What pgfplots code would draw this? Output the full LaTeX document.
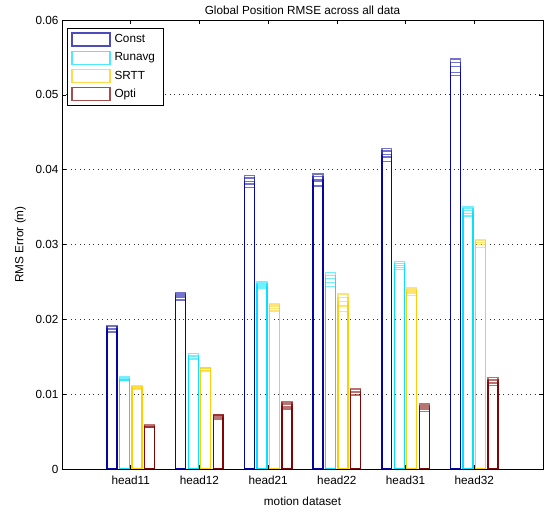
\documentclass[border=0pt]{standalone}
\usepackage{fontspec}
\setmainfont{Liberation Sans}
\usepackage{pgfplots}
\usepackage{pgfplotstable}
\pgfplotsset{compat=1.18}
\definecolor{cConst}{RGB}{0,0,160}
\definecolor{cRun}{RGB}{0,225,255}
\definecolor{cSrtt}{RGB}{255,205,0}
\definecolor{cOpti}{RGB}{128,0,0}
\pgfplotstableread{
x t1 t2 t3 t4 t5
1 0.0192 0.0190 0.0188 0.0186 0.0183
2 0.0236 0.0234 0.0231 0.0229 0.0226
3 0.0392 0.0389 0.0384 0.0381 0.0376
4 0.0394 0.0391 0.0387 0.0385 0.0378
5 0.0428 0.0425 0.0420 0.0417 0.0411
6 0.0548 0.0543 0.0538 0.0530 0.0526
}\Const
\pgfplotstableread{
x t1 t2 t3 t4 t5
1 0.0123 0.0121 0.0120 0.0119 0.0118
2 0.0154 0.0152 0.0150 0.0148 0.0146
3 0.0250 0.0248 0.0246 0.0244 0.0242
4 0.0263 0.0259 0.0255 0.0249 0.0244
5 0.0277 0.0275 0.0272 0.0269 0.0267
6 0.0350 0.0348 0.0345 0.0341 0.0338
}\Runavg
\pgfplotstableread{
x t1 t2 t3 t4 t5
1 0.0111 0.0110 0.0109 0.0108 0.0107
2 0.0136 0.0135 0.0134 0.0132 0.0131
3 0.0221 0.0219 0.0217 0.0214 0.0211
4 0.0234 0.0229 0.0224 0.0218 0.0210
5 0.0242 0.0240 0.0238 0.0235 0.0232
6 0.0307 0.0305 0.0303 0.0300 0.0296
}\Srtt
\pgfplotstableread{
x t1 t2 t3 t4 t5
1 0.0059 0.0058 0.0057 0.0056 0.0055
2 0.0073 0.0072 0.0071 0.0069 0.0067
3 0.0090 0.0088 0.0086 0.0083 0.0080
4 0.0108 0.0106 0.0104 0.0102 0.0099
5 0.0087 0.0085 0.0083 0.0080 0.0077
6 0.0122 0.0120 0.0118 0.0115 0.0112
}\Opti
\begin{document}
\begin{tikzpicture}
\begin{axis}[
  scale only axis,
  width=481bp, height=449bp,
  xmin=0, xmax=7, ymin=0, ymax=0.06,
  ybar, bar width=0.145,
  xtick={1,2,3,4,5,6},
  xticklabels={head11,head12,head21,head22,head31,head32},
  ytick={0,0.01,0.02,0.03,0.04,0.05,0.06},
  scaled y ticks=false,
  yticklabel style={/pgf/number format/fixed,/pgf/number format/precision=2},
  xticklabel style={yshift=-3bp},
  /pgf/number format/assume math mode=true,
  tick align=inside,
  major tick length=4bp,
  tick style={black, line width=0.5bp},
  ymajorgrids,
  major grid style={black!80, line width=0.7bp, dash pattern=on 1bp off 3.5bp},
  axis line style={black, line width=0.6bp},
  ticklabel style={font=\fontsize{11.8}{13}\selectfont},
  title={Global Position RMSE across all data},
  title style={font=\fontsize{11.8}{13}\selectfont, yshift=-4bp},
  xlabel={motion dataset},
  ylabel={RMS Error (m)},
  label style={font=\fontsize{11.8}{13}\selectfont},
  xlabel style={yshift=-6bp},
  ylabel style={yshift=3bp},
  legend style={at={(0.0104,0.982)}, anchor=north west, draw=black, line width=0.6bp,
    font=\fontsize{11.8}{13}\selectfont, row sep=4bp, inner xsep=4bp, inner ysep=4bp,
    nodes={inner xsep=4bp}},
  legend cell align=left,
  legend image code/.code={\draw[#1, line width=1.2bp, draw opacity=0.7] (0bp,-6.5bp) rectangle (38bp,6.5bp);},
  every axis plot/.append style={fill=none, line width=1.3bp, draw opacity=0.55},
]
\addplot[draw=cConst, bar shift=-0.2727] table[x=x,y=t1]{\Const};
\addlegendentry{Const}
\addplot[draw=cRun, bar shift=-0.0909] table[x=x,y=t1]{\Runavg};
\addlegendentry{Runavg}
\addplot[draw=cSrtt, bar shift=0.0909] table[x=x,y=t1]{\Srtt};
\addlegendentry{SRTT}
\addplot[draw=cOpti, bar shift=0.2727] table[x=x,y=t1]{\Opti};
\addlegendentry{Opti}
\pgfplotsinvokeforeach{2,3,4,5}{
  \addplot[draw=cConst, bar shift=-0.2727, forget plot] table[x=x,y=t#1]{\Const};
  \addplot[draw=cRun, bar shift=-0.0909, forget plot] table[x=x,y=t#1]{\Runavg};
  \addplot[draw=cSrtt, bar shift=0.0909, forget plot] table[x=x,y=t#1]{\Srtt};
  \addplot[draw=cOpti, bar shift=0.2727, forget plot] table[x=x,y=t#1]{\Opti};
}
\end{axis}
\path (current axis.south west) ++(-62bp,-43bp) coordinate (bbl);
\path (current axis.north east) ++(3bp,20bp) coordinate (bbr);
\useasboundingbox (bbl) rectangle (bbr);
\end{tikzpicture}
\end{document}
